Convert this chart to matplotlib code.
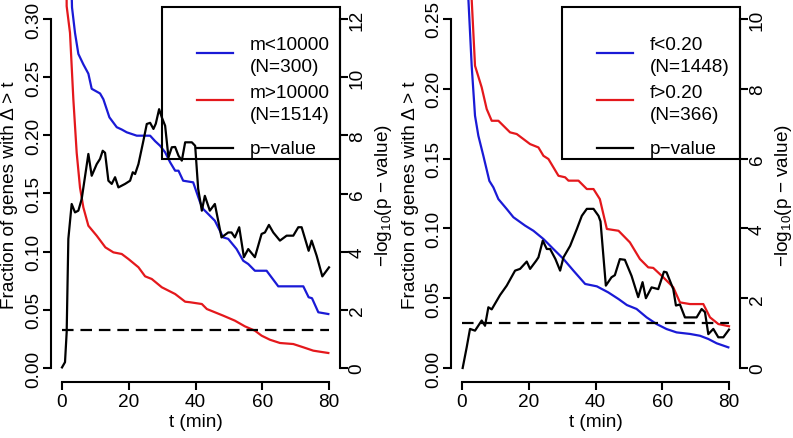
import numpy as np
import matplotlib
matplotlib.use("Agg")
import matplotlib.pyplot as plt
from matplotlib.lines import Line2D
from matplotlib.patches import Rectangle

plt.rcParams['font.family'] = ['Liberation Sans', 'DejaVu Sans']
plt.rcParams['mathtext.fontset'] = 'custom'
plt.rcParams['mathtext.rm'] = 'Liberation Sans'
plt.rcParams['mathtext.default'] = 'regular'

W, H = 793, 439
FS = 13.7
BLUE = '#1a1ad6'
RED = '#e4181c'
P_CUT = 1.30103   # -log10(0.05)
T_MIN, T_MAX = 0, 80

# ---------------- left panel: split by m ----------------
t_m_lo = [0, 1, 2, 3, 3.9, 4.9, 6.4, 7.9, 8.9, 11.4, 12.4, 14.2, 16.4, 17.9, 19.4,
          22.4, 26.4, 27.9, 29.4, 30.9, 32.4, 33.9, 34.9, 36.3, 39.3, 41.3, 42.3,
          45.8, 48.3, 49.8, 52.3, 54.3, 55.8, 57.8, 61.3, 64.8, 72.3, 73.9, 74.9,
          76.8, 79.8]
frac_m_lo = [1.0, 0.6, 0.42, 0.31, 0.288, 0.270, 0.261, 0.253, 0.240, 0.236, 0.231,
             0.2155, 0.207, 0.205, 0.2026, 0.1997, 0.1997, 0.195, 0.191, 0.1854,
             0.1768, 0.1696, 0.1696, 0.161, 0.1596, 0.143, 0.1367, 0.1266, 0.1123,
             0.111, 0.1023, 0.0922, 0.0894, 0.0836, 0.0836, 0.0702, 0.0702, 0.0608,
             0.06, 0.0479, 0.0464]

t_m_hi = [0, 1, 1.4, 2.4, 3.4, 4.4, 5.4, 6.4, 7.9, 10.4, 13, 15.4, 17.9, 19.9, 22.9,
          24.9, 26.9, 29.9, 33.9, 36.9, 38.4, 41.9, 43.4, 48.3, 51.8, 54.8, 57.8,
          59.8, 62.3, 65.3, 69.3, 72.3, 75.3, 77.3, 79.8]
frac_m_hi = [1.0, 0.5, 0.311, 0.288, 0.231, 0.185, 0.155, 0.138, 0.1223, 0.1137,
             0.1037, 0.0994, 0.098, 0.0937, 0.0866, 0.0788, 0.0765, 0.0694, 0.0636,
             0.057, 0.0565, 0.055, 0.0507, 0.045, 0.0407, 0.0358, 0.0321, 0.0278,
             0.0243, 0.0215, 0.0206, 0.0178, 0.0149, 0.014, 0.0129]

t_m_p = [0, 0.9, 1.4, 1.9, 2.9, 3.9, 4.9, 5.9, 7.9, 8.9, 10.4, 11.4, 12.2, 12.9, 13.9,
         14.9, 15.9, 16.9, 18.9, 20.4, 21.2, 21.9, 22.9, 24.4, 25.4, 26.4, 27.4, 28.1,
         29.1, 29.9, 30.9, 31.9, 32.9, 33.9, 34.9, 35.9, 36.9, 38.9, 39.9, 40.8, 41.9,
         42.8, 44.3, 45.8, 47.8, 49.8, 50.8, 51.8, 53.1, 54.5, 55.8, 57.8, 59.8, 60.8,
         62, 63.3, 65.3, 67.3, 69.3, 70.8, 71.8, 73.9, 74.8, 76.3, 78, 80]
logp_m = [0.02, 0.2, 1.23, 4.44, 5.64, 5.35, 5.41, 5.81, 7.36, 6.61, 7.01, 7.19, 7.47,
          7.4, 6.44, 6.33, 6.56, 6.21, 6.33, 6.44, 6.73, 6.67, 7.01, 7.82, 8.39, 8.43,
          8.22, 8.4, 8.9, 8.62, 8.33, 7.24, 7.59, 7.6, 7.3, 7.13, 7.76, 7.76, 7.64,
          6.16, 5.41, 5.92, 5.41, 5.64, 4.49, 4.66, 4.66, 4.49, 4.84, 3.81, 4.09, 3.81,
          4.61, 4.66, 4.92, 4.66, 4.38, 4.55, 4.55, 4.84, 4.84, 4.03, 4.38, 3.86, 3.15,
          3.46]

# ---------------- right panel: split by f ----------------
t_f_lo = [0, 1, 1.9, 2.9, 3.9, 4.9, 6.4, 8.2, 9.4, 10.9, 13.4, 15.4, 18.9, 21.4, 24.4,
          27.4, 30.4, 33.4, 36.9, 40.4, 43.8, 46.9, 49.4, 52.3, 55.3, 58.3, 61.3,
          64.3, 68.3, 71.3, 73.8, 76.3, 79.8]
frac_f_lo = [1.0, 0.5, 0.265, 0.2165, 0.1807, 0.1664, 0.152, 0.134, 0.1294, 0.121,
             0.1139, 0.108, 0.102, 0.0983, 0.0924, 0.0852, 0.0781, 0.0697, 0.0602,
             0.0585, 0.0542, 0.0494, 0.0451, 0.0423, 0.0363, 0.0315, 0.0279, 0.0255,
             0.0244, 0.0231, 0.0208, 0.0177, 0.0148]

t_f_hi = [0, 1, 2, 2.9, 3.9, 5.9, 7.4, 8.9, 10.9, 14.4, 16.4, 20.4, 22.9, 24.4, 25.9,
          28.9, 30.9, 31.9, 34.9, 37.4, 39.4, 41.3, 43.4, 46.9, 50.3, 53.3, 55.8, 57.3,
          60.3, 63.3, 65.3, 68.3, 72.3, 74.3, 76.8, 80]
frac_f_hi = [1.0, 0.6, 0.35, 0.264, 0.2165, 0.201, 0.1855, 0.1771, 0.1771, 0.1688,
             0.1676, 0.1604, 0.158, 0.152, 0.1497, 0.1377, 0.1366, 0.1342, 0.1342,
             0.1282, 0.1282, 0.121, 0.0996, 0.0983, 0.09, 0.0781, 0.0721, 0.0717,
             0.065, 0.0578, 0.047, 0.0458, 0.0458, 0.0363, 0.0315, 0.0299]

t_f_p = [0.2, 1.4, 2.4, 3.9, 5.9, 6.9, 7.9, 8.9, 11.4, 13.4, 15.9, 17.4, 19.4, 20.4,
         22.2, 22.9, 24.2, 25.4, 26.4, 28.0, 29.4, 30.4, 32.4, 34.4, 35.9, 37.4, 39.4,
         40.9, 41.5, 43.1, 44.8, 45.8, 47.3, 48.8, 50.8, 52.8, 54.1, 55.1, 56.8, 58.8,
         60.5, 61.3, 63.3, 64.1, 65.3, 66.8, 70.3, 71.8, 72.8, 73.8, 75.3, 76.8, 78.3,
         80]
logp_f = [0, 0.59, 1.12, 1.07, 1.36, 1.21, 1.74, 1.68, 2.09, 2.36, 2.79, 2.84, 3.05,
          2.84, 3.07, 3.17, 3.65, 3.41, 3.41, 3.12, 2.79, 3.17, 3.5, 3.98, 4.36, 4.56,
          4.56, 4.36, 4.2, 2.36, 2.6, 2.66, 3.12, 3.1, 2.64, 2.03, 2.46, 2.0, 2.31,
          2.26, 2.76, 2.74, 2.26, 1.79, 1.82, 1.45, 1.45, 1.69, 1.6, 0.97, 1.12, 0.88,
          0.88, 1.1]

labels_m = [['m<10000', '(N=300)'], ['m>10000', '(N=1514)'], ['p\u2212value']]
labels_f = [['f<0.20', '(N=1448)'], ['f>0.20', '(N=366)'], ['p\u2212value']]

fig = plt.figure(figsize=(W / 100, H / 100), dpi=100)


def fxy(px, py):
    return px / W, 1 - py / H


def panel(left, ymax, pmax, blue, red, pval, labels):
    # R-like plot region in pixels
    right, top, bottom = left + 289, 7, 383
    t0_px, sx = left + 11, 3.3375
    y0_px, y1_px = 369, 20
    ax = fig.add_axes([left / W, 1 - bottom / H, (right - left) / W, (bottom - top) / H])
    ax.set_xlim((left - t0_px) / sx, (right - t0_px) / sx)
    k = ymax / (y0_px - y1_px)
    ax.set_ylim(-(bottom - y0_px) * k, (y0_px - top) * k)
    ax2 = ax.twinx()
    kp = pmax / (y0_px - y1_px)
    ax2.set_ylim(-(bottom - y0_px) * kp, (y0_px - top) * kp)

    ax.plot(blue[0], blue[1], color=BLUE, lw=1.6, clip_on=False)
    ax.plot(red[0], red[1], color=RED, lw=1.6, clip_on=False)
    ax2.plot(pval[0], pval[1], color='black', lw=1.6)
    ax2.hlines(P_CUT, T_MIN, T_MAX, color='black', lw=1.6, linestyles=(0, (5.2, 3.1)))

    for s in ['top', 'right']:
        ax.spines[s].set_visible(False)
    for s in ['top', 'left', 'bottom']:
        ax2.spines[s].set_visible(False)
    ax.spines['left'].set_bounds(0, ymax)
    ax.spines['bottom'].set_bounds(T_MIN, T_MAX)
    ax2.spines['right'].set_bounds(0, pmax)
    for a in (ax, ax2):
        for s in a.spines.values():
            s.set_linewidth(1.5)

    ax.set_xticks(range(T_MIN, T_MAX + 1, 20))
    yt = np.arange(0, ymax + 1e-9, 0.05)
    ax.set_yticks(yt)
    ax.set_yticklabels([f'{v:.2f}' for v in yt])
    ax2.set_yticks(range(0, pmax + 1, 2))
    for a in (ax, ax2):
        a.tick_params(direction='out', length=5.5, width=1.5, labelsize=FS)
        a.tick_params(axis='y', pad=0.8, labelrotation=90)
        plt.setp(a.get_yticklabels(), va='center')
    ax.tick_params(axis='x', pad=2.6)

    fig.text(*fxy(left - 41, 195), 'Fraction of genes with \u0394 > t', rotation=90,
             ha='center', va='center', fontsize=FS)
    fig.text(*fxy(right + 44, 195), '\u2212log$_{10}$(p \u2212 value)', rotation=90,
             ha='center', va='center', fontsize=FS)
    fig.text(*fxy(t0_px + 40 * sx, 423), 't (min)', ha='center', va='center', fontsize=FS)

    # legend box (transparent, like R's topright legend)
    bx0, by0 = fxy(left + 111, 160)
    bx1, by1 = fxy(right, 8)
    fig.add_artist(Rectangle((bx0, by0), bx1 - bx0, by1 - by0, transform=fig.transFigure,
                             fill=False, lw=1.5, ec='black'))
    sample_y = [54, 101, 149]
    for lines, col, sy in zip(labels, [BLUE, RED, 'black'], sample_y):
        xa, ya = fxy(left + 146, sy)
        xb, _ = fxy(left + 182, sy)
        fig.add_artist(Line2D([xa, xb], [ya, ya], color=col, lw=1.6, transform=fig.transFigure))
        if len(lines) == 2:
            ys = [sy - 8, sy + 14]
        else:
            ys = [sy]
        for txt, ty in zip(lines, ys):
            fig.text(*fxy(left + 199, ty), txt, ha='left', va='center', fontsize=FS)


panel(51, 0.30, 12, (t_m_lo, frac_m_lo), (t_m_hi, frac_m_hi), (t_m_p, logp_m), labels_m)
panel(451, 0.25, 10, (t_f_lo, frac_f_lo), (t_f_hi, frac_f_hi), (t_f_p, logp_f), labels_f)

fig.savefig('out.png', dpi=100, facecolor='white')
